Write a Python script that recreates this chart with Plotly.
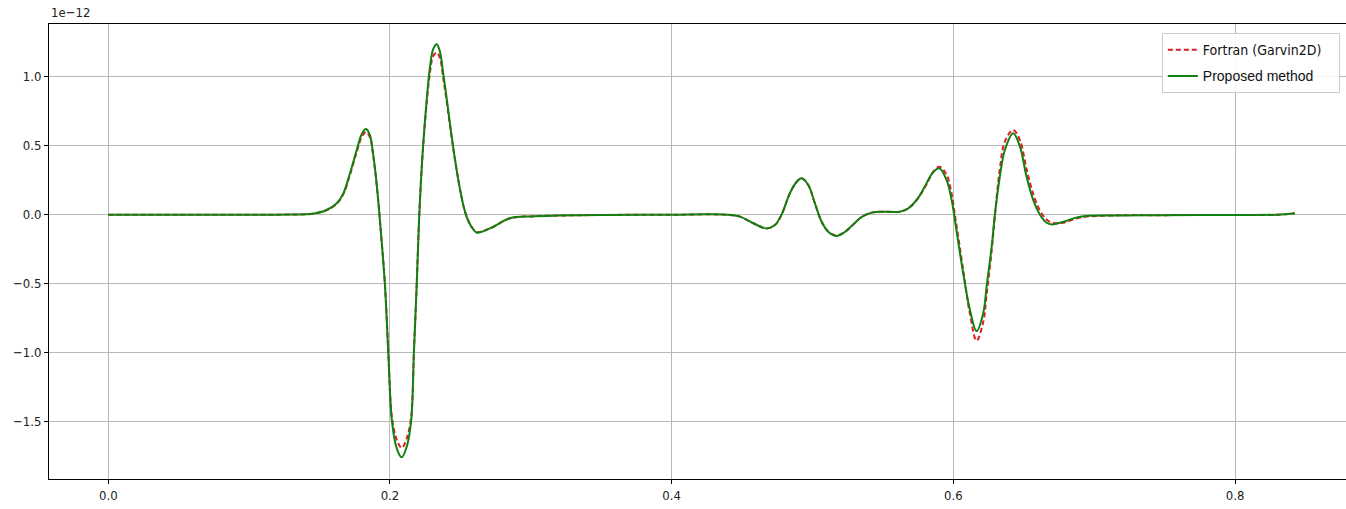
import plotly.graph_objects as go

# x positions (same grid for both series)
x_vals = [0.000, 0.050, 0.100, 0.130, 0.145, 0.1550, 0.1622, 0.1669, 0.1716, 0.1764,
          0.1800, 0.1830, 0.1860, 0.1875, 0.1894, 0.1915, 0.1935, 0.1964, 0.1988, 0.2014,
          0.2048, 0.2083, 0.2119, 0.2150, 0.2170, 0.2190, 0.2208, 0.2232, 0.2258, 0.2284,
          0.2307, 0.2332, 0.2355, 0.2378, 0.2403, 0.2426, 0.2450, 0.2474, 0.2500, 0.2525,
          0.2550, 0.2580, 0.2616, 0.2710, 0.2852, 0.3000, 0.3200, 0.3500, 0.4000, 0.4390,
          0.4485, 0.4580, 0.4675, 0.4733, 0.4780, 0.4839, 0.4888, 0.4923, 0.4970, 0.5017,
          0.5065, 0.5112, 0.5171, 0.5230, 0.5290, 0.5350, 0.5420, 0.5500, 0.5620, 0.5680,
          0.5740, 0.5810, 0.5850, 0.5900, 0.5952, 0.5988, 0.6011, 0.6070, 0.6118, 0.6165,
          0.6212, 0.6236, 0.6272, 0.6295, 0.6330, 0.6366, 0.6425, 0.6473, 0.6520, 0.6567,
          0.6615, 0.6662, 0.6700, 0.6780, 0.6900, 0.7135, 0.7500, 0.8000, 0.8300, 0.8425]

# Proposed method (values in units of 1e-12)
proposed = [0.000, 0.000, 0.000, 0.002, 0.007, 0.034, 0.083, 0.155, 0.300, 0.469,
            0.585, 0.621, 0.570, 0.480, 0.330, 0.120, -0.120, -0.504, -0.997, -1.495,
            -1.693, -1.758, -1.681, -1.495, -0.997, -0.504, 0.000, 0.450, 0.800, 1.070,
            1.200, 1.235, 1.181, 1.025, 0.840, 0.660, 0.480, 0.320, 0.170, 0.050,
            -0.030, -0.090, -0.130, -0.099, -0.026, -0.012, -0.006, -0.002, 0.000, 0.000,
            -0.014, -0.062, -0.099, -0.075, 0.000, 0.155, 0.239, 0.264, 0.215, 0.083,
            -0.051, -0.123, -0.154, -0.125, -0.070, -0.015, 0.015, 0.022, 0.022, 0.046,
            0.107, 0.228, 0.300, 0.336, 0.251, 0.107, -0.038, -0.425, -0.691, -0.843,
            -0.715, -0.522, -0.232, 0.000, 0.275, 0.469, 0.590, 0.493, 0.275, 0.107,
            0.000, -0.058, -0.070, -0.051, -0.014, -0.005, -0.003, -0.002, 0.000, 0.010]

# Fortran (Garvin2D) (values in units of 1e-12)
fortran = [0.000, 0.000, 0.000, 0.002, 0.007, 0.033, 0.080, 0.150, 0.290, 0.455,
           0.565, 0.600, 0.555, 0.470, 0.325, 0.120, -0.120, -0.500, -0.990, -1.470,
           -1.630, -1.690, -1.620, -1.470, -0.990, -0.500, 0.000, 0.440, 0.780, 1.030,
           1.150, 1.175, 1.135, 0.990, 0.820, 0.645, 0.475, 0.320, 0.170, 0.050,
           -0.030, -0.088, -0.125, -0.099, -0.026, -0.012, -0.006, -0.002, 0.000, 0.000,
           -0.014, -0.062, -0.099, -0.075, 0.000, 0.155, 0.239, 0.264, 0.215, 0.083,
           -0.051, -0.123, -0.150, -0.125, -0.070, -0.015, 0.015, 0.022, 0.022, 0.046,
           0.107, 0.220, 0.300, 0.348, 0.290, 0.150, 0.000, -0.400, -0.720, -0.913,
           -0.780, -0.580, -0.260, -0.010, 0.330, 0.530, 0.614, 0.540, 0.330, 0.150,
           0.030, -0.035, -0.058, -0.058, -0.020, -0.005, -0.003, -0.002, 0.000, 0.010]

x_ticks = [0.0, 0.2, 0.4, 0.6, 0.8]
x_tick_labels = ["0.0", "0.2", "0.4", "0.6", "0.8"]
y_ticks = [-1.5, -1.0, -0.5, 0.0, 0.5, 1.0]
y_tick_labels = ["\u22121.5", "\u22121.0", "\u22120.5", "0.0", "0.5", "1.0"]

FONT = "DejaVu Sans Condensed, DejaVu Sans, sans-serif"

fig = go.Figure()
fig.add_trace(go.Scatter(
    x=x_vals, y=fortran, mode="lines", legendgroup="a",
    name='<span style="font-family:DejaVu Sans Condensed">Fortran (Garvin2D)</span>&nbsp;&nbsp;&nbsp;',
    line=dict(color="#e41a1c", width=2, dash="5px,3px", shape="spline", smoothing=1.0),
))
fig.add_trace(go.Scatter(
    x=x_vals, y=proposed, mode="lines", legendgroup="b",
    name='<span style="font-family:Liberation Sans">Proposed method</span>',
    line=dict(color="#108010", width=2, shape="spline", smoothing=1.0),
))

fig.update_layout(
    width=1346, height=509,
    margin=dict(l=49, r=0, t=24, b=30),
    paper_bgcolor="white", plot_bgcolor="white",
    font=dict(family=FONT, size=13, color="#222222"),
    showlegend=True,
    legend=dict(
        x=0.858, y=0.98, xanchor="left", yanchor="top",
        bgcolor="rgba(255,255,255,0.85)", bordercolor="#cccccc", borderwidth=1,
        font=dict(size=14, color="#111111"),
        traceorder="grouped", tracegroupgap=5, itemwidth=30,
    ),
    xaxis=dict(
        range=[-0.0421, 0.8788], tickmode="array", tickvals=x_ticks, ticktext=x_tick_labels,
        showgrid=True, gridcolor="#b9b9b9", gridwidth=1,
        showline=True, linecolor="black", linewidth=1, mirror=True,
        ticks="outside", ticklen=4, tickcolor="black", zeroline=False,
    ),
    yaxis=dict(
        range=[-1.915, 1.382], tickmode="array", tickvals=y_ticks, ticktext=y_tick_labels,
        showgrid=True, gridcolor="#b9b9b9", gridwidth=1,
        showline=True, linecolor="black", linewidth=1, mirror=False,
        ticks="outside", ticklen=4, tickcolor="black", zeroline=False,
    ),
    annotations=[dict(
        text="1e\u221212", xref="paper", yref="paper", x=0, y=1, xanchor="left",
        yanchor="bottom", showarrow=False, font=dict(size=13, family=FONT, color="#222222"),
        yshift=2,
    )],
)

fig.write_html(
    "out.html",
    config={"displayModeBar": False},
    post_script="document.body.style.margin='0';document.body.style.overflow='hidden';",
)
